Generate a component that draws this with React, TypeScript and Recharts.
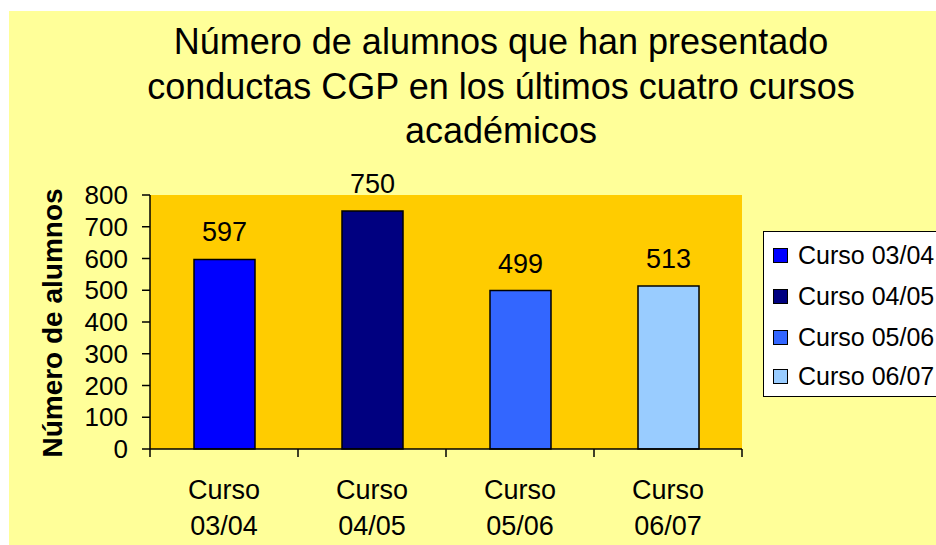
import { BarChart, Bar, XAxis, YAxis, CartesianGrid, Legend, LabelList, Cell } from 'recharts';

const cursos = ['Curso 03/04', 'Curso 04/05', 'Curso 05/06', 'Curso 06/07'];
const alumnos = [597, 750, 499, 513];
const colores = ['#0000FF', '#000080', '#3366FF', '#99CCFF'];
const yTicks = [0, 100, 200, 300, 400, 500, 600, 700, 800];
const titulo = [
  'Número de alumnos que han presentado',
  'conductas CGP en los últimos cuatro cursos',
  'académicos',
];

const data = cursos.map((curso, i) => ({ curso, alumnos: alumnos[i] }));

const FONT = '"Liberation Sans", Arial, sans-serif';

// Excel pone las marcas entre categorías, no en el centro
const CursoTick = (props: any) => {
  const { x, y, payload, index, width, visibleTicksCount } = props;
  const half = payload?.offset || width / (visibleTicksCount || cursos.length) / 2;
  const [a, b] = String(payload.value).split(' ');
  return (
    <g>
      <line x1={x - half} x2={x - half} y1={y} y2={y + 8} stroke="#000" strokeWidth={1.5} />
      {index === cursos.length - 1 && (
        <line x1={x + half} x2={x + half} y1={y} y2={y + 8} stroke="#000" strokeWidth={1.5} />
      )}
      <text x={x} y={y} textAnchor="middle" fontSize={27} fontFamily={FONT} fill="#000">
        <tspan x={x} dy={50}>{a}</tspan>
        <tspan x={x} dy={36}>{b}</tspan>
      </text>
    </g>
  );
};

const LegendBox = () => (
  <div
    style={{
      width: 190,
      height: 166,
      background: '#fff',
      border: '1px solid #000',
      boxSizing: 'border-box',
      position: 'relative',
      fontFamily: FONT,
    }}
  >
    {cursos.map((c, i) => (
      <div
        key={c}
        style={{
          position: 'absolute',
          left: 9,
          top: [10, 51, 92, 131][i],
          display: 'flex',
          alignItems: 'center',
          height: 26,
          whiteSpace: 'nowrap',
        }}
      >
        <span
          style={{
            width: 13,
            height: 13,
            background: colores[i],
            border: '1px solid #000',
            display: 'inline-block',
            marginRight: 10,
          }}
        />
        <span style={{ fontSize: 25, color: '#000' }}>{c}</span>
      </div>
    ))}
  </div>
);

export default function App() {
  return (
    <div style={{ position: 'absolute', left: 0, top: 0, width: 936, height: 545, background: '#fff', overflow: 'hidden' }}>
      <div style={{ position: 'absolute', left: 9, top: 11, width: 927, height: 534, background: '#FFFF99' }} />
      <div style={{ position: 'absolute', left: 0, top: 0 }}>
        <BarChart
          width={936}
          height={545}
          data={data}
          margin={{ top: 195, right: 4, bottom: 0, left: 0 }}
        >
          <CartesianGrid fill="#FFCC00" horizontal={false} vertical={false} />
          <XAxis
            dataKey="curso"
            height={96}
            axisLine={{ stroke: '#000', strokeWidth: 1.5 }}
            tickLine={false}
            tickSize={0}
            tickMargin={0}
            interval={0}
            tick={<CursoTick />}
          />
          <YAxis
            width={150}
            domain={[0, 800]}
            ticks={yTicks}
            interval={0}
            tickSize={8}
            tickMargin={14}
            axisLine={{ stroke: '#000', strokeWidth: 1.5 }}
            tickLine={{ stroke: '#000', strokeWidth: 1.5 }}
            tick={{ fill: '#000', fontSize: 26, fontFamily: FONT }}
          />
          <Legend
            layout="vertical"
            align="right"
            verticalAlign="middle"
            content={<LegendBox />}
            wrapperStyle={{ position: 'absolute', left: 763, top: 231, right: 'auto', width: 190, height: 166 }}
          />
          <Bar
            dataKey="alumnos"
            barSize={61}
            stroke="#000"
            strokeWidth={1.5}
            isAnimationActive={false}
          >
            {data.map((d, i) => (
              <Cell key={d.curso} fill={colores[i]} />
            ))}
            <LabelList
              dataKey="alumnos"
              position="top"
              offset={18}
              fill="#000"
              fontSize={27}
              fontFamily={FONT}
            />
          </Bar>
        </BarChart>
      </div>
      <svg
        width={936}
        height={545}
        style={{ position: 'absolute', left: 0, top: 0, pointerEvents: 'none' }}
      >
        {titulo.map((t, i) => (
          <text key={i} x={501} y={54 + i * 44.5} textAnchor="middle" fontSize={36} fontFamily={FONT} fill="#000">
            {t}
          </text>
        ))}
        <text
          x={62}
          y={323}
          transform="rotate(-90, 62, 323)"
          textAnchor="middle"
          fontSize={28}
          fontWeight="bold"
          fontFamily={FONT}
          fill="#000"
        >
          Número de alumnos
        </text>
      </svg>
    </div>
  );
}
